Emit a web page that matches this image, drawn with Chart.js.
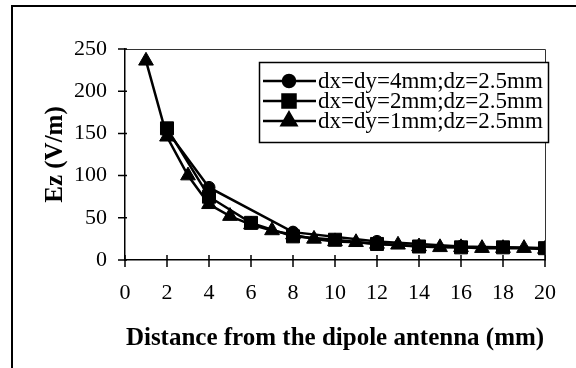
<!DOCTYPE html>
<html>
<head>
<meta charset="utf-8">
<script src="https://cdn.jsdelivr.net/npm/chart.js@4/dist/chart.umd.min.js"></script>
<style>
  html, body { margin: 0; padding: 0; background: #fff; }
</style>
</head>
<body>
<canvas id="myChart" width="576" height="368"></canvas>
<script>
// values
const SERIES_LABELS = ["dx=dy=4mm;dz=2.5mm", "dx=dy=2mm;dz=2.5mm", "dx=dy=1mm;dz=2.5mm"];
const X_4MM = [2, 4, 8, 12, 16, 20];
const EZ_4MM = [153, 86, 33, 22, 16, 14];
const X_2MM = [2, 4, 6, 8, 10, 12, 14, 16, 18, 20];
const EZ_2MM = [156, 75, 44, 28, 24, 19, 16, 15, 15, 14];
const X_1MM = [1, 2, 3, 4, 5, 6, 7, 8, 9, 10, 11, 12, 13, 14, 15, 16, 17, 18, 19, 20];
const EZ_1MM = [236, 146, 100, 66, 52, 42, 35, 30, 25, 22, 21, 19, 18, 16, 15, 15, 14, 14, 14, 13];
const X_TICKS = [0, 2, 4, 6, 8, 10, 12, 14, 16, 18, 20];
const Y_TICKS = [0, 50, 100, 150, 200, 250];

const MARKERS = [
  { pointStyle: "circle", radius: 6 },
  { pointStyle: "rect", radius: 9.2 },
  { pointStyle: "triangle", radius: 8.5 },
];

const SERIF = "'Liberation Serif', 'Times New Roman', serif";
Chart.defaults.font.family = SERIF;
Chart.defaults.color = "#000";

function toPoints(xs, ys) {
  return xs.map((x, i) => ({ x: x, y: ys[i] }));
}

function makeDataset(i, xs, ys, order) {
  return {
    label: SERIES_LABELS[i],
    data: toPoints(xs, ys),
    borderColor: "#000",
    backgroundColor: "#000",
    borderWidth: 2.5,
    pointStyle: MARKERS[i].pointStyle,
    pointRadius: MARKERS[i].radius,
    pointBorderWidth: 1,
    tension: 0,
    order: order,
  };
}

// frame, plot border, crossing tick marks and the boxed legend
const decor = {
  id: "decor",
  beforeDraw(chart) {
    const ctx = chart.ctx;
    ctx.save();
    ctx.fillStyle = "#fff";
    ctx.fillRect(0, 0, chart.width, chart.height);
    ctx.strokeStyle = "#000";
    ctx.lineWidth = 2;
    ctx.beginPath();
    ctx.moveTo(12, 368);
    ctx.lineTo(12, 6);
    ctx.lineTo(576, 6);
    ctx.stroke();
    ctx.restore();
  },
  beforeDatasetsDraw(chart) {
    const ctx = chart.ctx;
    const a = chart.chartArea;
    const xs = chart.scales.x, ys = chart.scales.y;
    ctx.save();
    ctx.strokeStyle = "#333";
    ctx.lineWidth = 1;
    ctx.beginPath();
    ctx.moveTo(a.left, a.top + 0.5);
    ctx.lineTo(a.right + 0.5, a.top + 0.5);
    ctx.lineTo(a.right + 0.5, a.bottom);
    ctx.stroke();
    ctx.strokeStyle = "#000";
    ctx.lineWidth = 1.5;
    ctx.beginPath();
    X_TICKS.forEach((v) => {
      const px = xs.getPixelForValue(v);
      ctx.moveTo(px, a.bottom - 5);
      ctx.lineTo(px, a.bottom + 7);
    });
    Y_TICKS.forEach((v) => {
      const py = ys.getPixelForValue(v);
      ctx.moveTo(a.left - 7, py);
      ctx.lineTo(a.left + 2, py);
    });
    ctx.stroke();
    ctx.restore();
  },
  afterDatasetsDraw(chart) {
    const ctx = chart.ctx;
    ctx.save();
    ctx.fillStyle = "#fff";
    ctx.fillRect(259.5, 62.5, 289, 80);
    ctx.strokeStyle = "#000";
    ctx.lineWidth = 1.5;
    ctx.strokeRect(259.5, 62.5, 289, 80);
    ctx.font = "23px " + SERIF;
    ctx.textBaseline = "middle";
    ctx.textAlign = "left";
    SERIES_LABELS.forEach((label, i) => {
      const y = 81 + 20 * i;
      ctx.strokeStyle = "#000";
      ctx.fillStyle = "#000";
      ctx.lineWidth = 2.5;
      ctx.beginPath();
      ctx.moveTo(263, y);
      ctx.lineTo(316, y);
      ctx.stroke();
      Chart.helpers.drawPoint(ctx, {
        pointStyle: MARKERS[i].pointStyle,
        radius: MARKERS[i].radius,
        rotation: 0,
        borderWidth: 1,
      }, 289, y);
      ctx.fillStyle = "#000";
      ctx.fillText(label, 318, y + 1);
    });
    ctx.restore();
  },
};

new Chart(document.getElementById("myChart").getContext("2d"), {
  type: "line",
  data: {
    datasets: [
      makeDataset(0, X_4MM, EZ_4MM, 2),
      makeDataset(1, X_2MM, EZ_2MM, 0),
      makeDataset(2, X_1MM, EZ_1MM, 1),
    ],
  },
  options: {
    responsive: false,
    animation: false,
    devicePixelRatio: 1,
    layout: { padding: { left: 0, right: 25, top: 49, bottom: 0 } },
    plugins: { legend: { display: false }, tooltip: { enabled: false } },
    scales: {
      x: {
        type: "linear",
        min: 0,
        max: 20,
        afterFit: (s) => { s.height = 108; },
        ticks: { stepSize: 2, padding: 20, font: { size: 22 }, color: "#000", maxRotation: 0 },
        grid: { display: true, drawOnChartArea: false, drawTicks: false },
        border: { color: "#000", width: 1.5 },
        title: {
          display: true,
          text: "Distance from the dipole antenna (mm)",
          font: { size: 25, weight: "bold" },
          color: "#000",
          padding: { top: 0, bottom: 14 },
        },
      },
      y: {
        min: 0,
        max: 250,
        afterFit: (s) => { s.width = 125; },
        ticks: { stepSize: 50, padding: 18, font: { size: 22 }, color: "#000" },
        grid: { display: true, drawOnChartArea: false, drawTicks: false },
        border: { color: "#000", width: 1.5 },
        title: {
          display: true,
          text: "Ez (V/m)",
          font: { size: 25, weight: "bold" },
          color: "#000",
          padding: { top: 41, bottom: 0 },
        },
      },
    },
  },
  plugins: [decor],
});
</script>
</body>
</html>
